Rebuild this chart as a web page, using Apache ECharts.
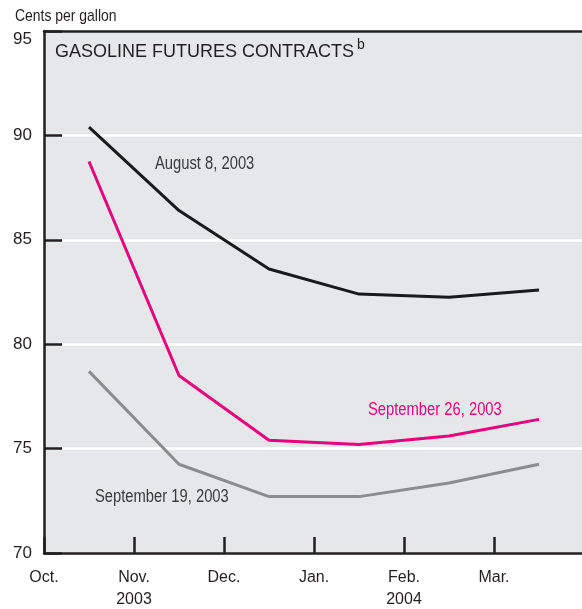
<!DOCTYPE html>
<html><head><meta charset="utf-8">
<script src="https://cdn.jsdelivr.net/npm/echarts@6/dist/echarts.min.js"></script>
<style>html,body{margin:0;padding:0;background:#fff}#c{width:582px;height:609px}</style>
</head><body><div id="c"></div>
<script>
const monthLabels = ['Oct.', 'Nov.\n2003', 'Dec.', 'Jan.', 'Feb.\n2004', 'Mar.'];
const contractPos = [0.5, 1.5, 2.5, 3.5, 4.5, 5.5];
const aug8 = [90.4, 86.4, 83.6, 82.4, 82.25, 82.6];
const sep26 = [88.75, 78.5, 75.4, 75.2, 75.6, 76.4];
const sep19 = [78.7, 74.25, 72.7, 72.7, 73.35, 74.25];
const yTicks = [70, 75, 80, 85, 90, 95];

const REG = '"Liberation Sans",Arial,sans-serif';
const pair = (xs, ys) => xs.map((x, i) => [x, ys[i]]);
const dark = '#231f20';
const NX = 0.82; // narrow (condensed) horizontal scale

const chart = echarts.init(document.getElementById('c'));
chart.setOption({
  animation: false,
  backgroundColor: '#fff',
  grid: { left: 44, top: 31, width: 540, height: 522, outerBoundsMode: 'none', containLabel: false, show: true, backgroundColor: '#e6e7e9', borderWidth: 0 },
  xAxis: [{
    type: 'value', min: 0, max: 6, interval: 1,
    axisLine: { lineStyle: { color: dark, width: 2.5 } },
    axisTick: { inside: true, length: 16, lineStyle: { color: dark, width: 2.5 } },
    splitLine: { show: false },
    axisLabel: {
      margin: 14, lineHeight: 22, fontFamily: REG, fontSize: 16, color: '#231f20',
      formatter: v => (v >= 0 && v < monthLabels.length) ? monthLabels[v] : ''
    }
  }, {
    type: 'value', position: 'top', min: 0, max: 6,
    axisLine: { show: true, lineStyle: { color: dark, width: 2.5 } },
    axisTick: { show: false }, axisLabel: { show: false }, splitLine: { show: false }
  }],
  yAxis: {
    type: 'value', min: yTicks[0], max: yTicks[yTicks.length - 1], interval: 5,
    axisLine: { show: true, lineStyle: { color: dark, width: 2.5 } },
    axisTick: { show: true, inside: true, length: 18, lineStyle: { color: dark, width: 2.5 } },
    splitLine: { show: true, lineStyle: { color: '#ffffff', width: 2.5 } },
    axisLabel: { margin: 12, fontFamily: REG, fontSize: 17, color: '#231f20', verticalAlignMaxLabel: 'top' }
  },
  series: [
    { name: 'August 8, 2003', type: 'line', data: pair(contractPos, aug8), symbol: 'none', lineStyle: { color: '#1a1a1a', width: 3 }, z: 5 },
    { name: 'September 26, 2003', type: 'line', data: pair(contractPos, sep26), symbol: 'none', lineStyle: { color: '#e6007e', width: 3 }, z: 5 },
    { name: 'September 19, 2003', type: 'line', data: pair(contractPos, sep19), symbol: 'none', lineStyle: { color: '#8c8c8c', width: 3 }, z: 5 }
  ],
  graphic: [
    { type: 'text', x: 15, y: 8, scaleX: NX, style: { text: 'Cents per gallon', font: '17px ' + REG, fill: '#231f20' } },
    { type: 'text', x: 55, y: 43, style: { text: 'GASOLINE FUTURES CONTRACTS', font: '18px ' + REG, fill: '#231f20' } },
    { type: 'text', x: 357, y: 38, style: { text: 'b', font: '14px ' + REG, fill: '#231f20' } },
    { type: 'text', x: 155, y: 155, scaleX: NX, style: { text: 'August 8, 2003', font: '18px ' + REG, fill: '#3a3a3a' } },
    { type: 'text', x: 368, y: 401, scaleX: NX, style: { text: 'September 26, 2003', font: '18px ' + REG, fill: '#e6007e' } },
    { type: 'text', x: 95, y: 488, scaleX: NX, style: { text: 'September 19, 2003', font: '18px ' + REG, fill: '#3a3a3a' } }
  ]
});
</script></body></html>
